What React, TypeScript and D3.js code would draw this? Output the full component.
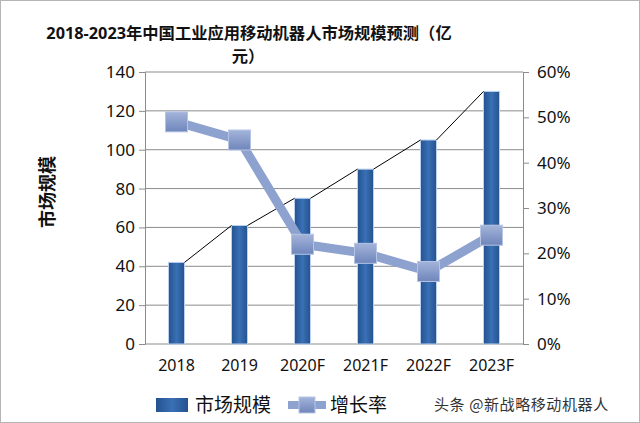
import React, { useEffect, useRef } from 'react';
import * as d3 from 'd3';

const categories = ['2018', '2019', '2020F', '2021F', '2022F', '2023F'];
const marketSize = [42, 61, 75, 90, 105, 130];
const growthRate = [0.49, 0.45, 0.22, 0.2, 0.16, 0.24];
const leftTicks = [0, 20, 40, 60, 80, 100, 120, 140];
const rightTicks = [0, 0.1, 0.2, 0.3, 0.4, 0.5, 0.6];

const W = 640;
const H = 423;
const FONT = "'Noto Sans', 'Noto Sans CJK SC', sans-serif";
const CJK = "'Noto Sans CJK SC', sans-serif";

const App = () => {
  const svgRef = useRef<SVGSVGElement>(null);

  useEffect(() => {
    const svg = d3.select(svgRef.current);
    svg.selectAll('*').remove();

    const plot = { left: 145, right: 523, top: 72, bottom: 344 };

    const x = d3.scaleBand().domain(categories).range([plot.left, plot.right]);
    const yL = d3.scaleLinear().domain([0, 140]).range([plot.bottom, plot.top]);
    const yR = d3.scaleLinear().domain([0, 0.6]).range([plot.bottom, plot.top]);
    const cx = (c: string) => (x(c) as number) + x.bandwidth() / 2;
    const barW = 16;

    // Gradients
    const defs = svg.append('defs');
    const barGrad = defs.append('linearGradient').attr('id', 'barGrad')
      .attr('x1', '0').attr('x2', '1').attr('y1', '0').attr('y2', '0');
    barGrad.append('stop').attr('offset', '0%').attr('stop-color', '#24528f');
    barGrad.append('stop').attr('offset', '50%').attr('stop-color', '#3a70b5');
    barGrad.append('stop').attr('offset', '100%').attr('stop-color', '#24528f');

    const mkGrad = defs.append('linearGradient').attr('id', 'mkGrad')
      .attr('x1', '0').attr('x2', '0').attr('y1', '0').attr('y2', '1');
    mkGrad.append('stop').attr('offset', '0%').attr('stop-color', '#a4b4da');
    mkGrad.append('stop').attr('offset', '100%').attr('stop-color', '#6f86bb');

    // Background + border
    svg.append('rect').attr('x', 0.5).attr('y', 0.5).attr('width', W - 1).attr('height', H - 1)
      .attr('fill', '#fff').attr('stroke', '#b5b5b5');

    // Gridlines
    svg.append('g').selectAll('line').data(leftTicks).enter().append('line')
      .attr('x1', plot.left).attr('x2', plot.right)
      .attr('y1', d => yL(d)).attr('y2', d => yL(d))
      .attr('stroke', '#8c8c8c').attr('stroke-width', 1);

    // Left axis
    const gl = svg.append('g').attr('transform', `translate(${plot.left},0)`)
      .call(d3.axisLeft(yL).tickValues(leftTicks).tickSize(6).tickPadding(4));
    gl.select('.domain').attr('stroke', '#8c8c8c');
    gl.selectAll('.tick line').attr('stroke', '#8c8c8c');
    gl.selectAll('text').style('font-size', '17px').style('font-family', FONT).attr('fill', '#111');

    // Right axis
    const gr = svg.append('g').attr('transform', `translate(${plot.right},0)`)
      .call(d3.axisRight(yR).tickValues(rightTicks).tickFormat(d3.format('.0%')).tickSize(6).tickPadding(8));
    gr.select('.domain').attr('stroke', '#8c8c8c');
    gr.selectAll('.tick line').attr('stroke', '#8c8c8c');
    gr.selectAll('text').style('font-size', '17px').style('font-family', FONT).attr('fill', '#111');

    // X labels
    const gx = svg.append('g').attr('transform', `translate(0,${plot.bottom})`)
      .call(d3.axisBottom(x).tickSize(0).tickPadding(16));
    gx.select('.domain').remove();
    gx.selectAll('text').style('font-size', '16px').style('font-family', FONT).attr('fill', '#111');

    // Bars
    svg.append('g').selectAll('rect').data(categories).enter().append('rect')
      .attr('x', d => cx(d) - barW / 2)
      .attr('y', (d, i) => yL(marketSize[i]))
      .attr('width', barW)
      .attr('height', (d, i) => plot.bottom - yL(marketSize[i]))
      .attr('fill', 'url(#barGrad)')
      .attr('stroke', '#b9d0ee').attr('stroke-width', 1);

    // Series lines between bar tops
    svg.append('g').selectAll('line').data(categories.slice(0, -1)).enter().append('line')
      .attr('x1', d => cx(d) + barW / 2)
      .attr('y1', (d, i) => yL(marketSize[i]))
      .attr('x2', (d, i) => cx(categories[i + 1]) - barW / 2)
      .attr('y2', (d, i) => yL(marketSize[i + 1]))
      .attr('stroke', '#000').attr('stroke-width', 1);

    // Growth line
    const line = d3.line<number>()
      .x((d, i) => cx(categories[i]))
      .y(d => yR(d));
    svg.append('path').datum(growthRate).attr('d', line)
      .attr('fill', 'none').attr('stroke', '#8ea2cf').attr('stroke-width', 9)
      .attr('stroke-linejoin', 'round');

    svg.append('g').selectAll('rect').data(growthRate).enter().append('rect')
      .attr('x', (d, i) => cx(categories[i]) - 11)
      .attr('y', d => yR(d) - 10)
      .attr('width', 22).attr('height', 20)
      .attr('fill', 'url(#mkGrad)')
      .attr('stroke', '#b7c5e4').attr('stroke-width', 1);

    // Title
    const title = svg.append('text').attr('x', 249).attr('y', 39)
      .attr('text-anchor', 'middle').style('font-size', '16.3px').attr('fill', '#111');
    title.append('tspan').style('font-family', FONT).style('font-weight', 'bold').text('2018-2023');
    title.append('tspan').style('font-family', CJK).style('font-weight', 'bold').text('年中国工业应用移动机器人市场规模预测（亿');
    svg.append('text').attr('x', 248).attr('y', 62).attr('text-anchor', 'middle')
      .style('font-size', '16.3px').style('font-family', CJK).style('font-weight', 'bold')
      .attr('fill', '#111').text('元）');

    // Y axis title
    svg.append('text').attr('transform', 'translate(54,192) rotate(-90)')
      .attr('text-anchor', 'middle').style('font-size', '18px').style('font-family', CJK)
      .style('font-weight', 'bold').attr('fill', '#111').text('市场规模');

    // Legend
    const lg = svg.append('g');
    lg.append('rect').attr('x', 156).attr('y', 398).attr('width', 32).attr('height', 14)
      .attr('fill', 'url(#barGrad)');
    lg.append('text').attr('x', 195).attr('y', 412).style('font-size', '19px')
      .style('font-family', CJK).attr('fill', '#111').text('市场规模');
    lg.append('line').attr('x1', 288).attr('x2', 326).attr('y1', 405).attr('y2', 405)
      .attr('stroke', '#8ea2cf').attr('stroke-width', 8);
    lg.append('rect').attr('x', 299).attr('y', 397).attr('width', 16).attr('height', 16)
      .attr('fill', 'url(#mkGrad)').attr('stroke', '#b7c5e4');
    lg.append('text').attr('x', 330).attr('y', 412).style('font-size', '19px')
      .style('font-family', CJK).attr('fill', '#111').text('增长率');

    // Watermark
    svg.append('text').attr('x', 434).attr('y', 410).style('font-size', '15px')
      .style('letter-spacing', '0.6px')
      .style('font-family', CJK).attr('fill', '#333').text('头条 @新战略移动机器人');
  }, []);

  return (
    <svg ref={svgRef} width={W} height={H}
      style={{ position: 'absolute', left: 0, top: 0, display: 'block' }} />
  );
};

export default App;
